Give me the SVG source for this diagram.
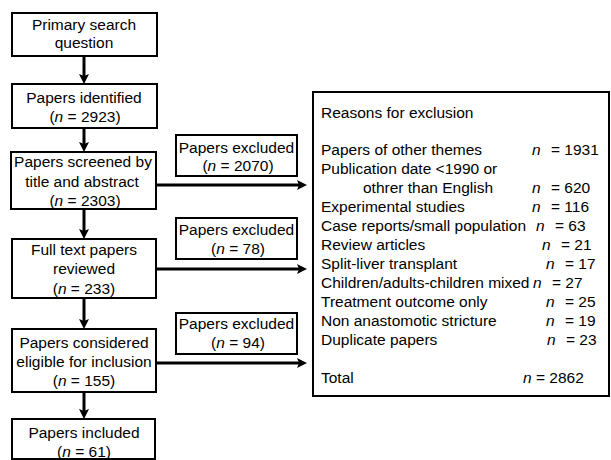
<svg xmlns="http://www.w3.org/2000/svg" width="611" height="460" viewBox="0 0 611 460">
<style>
  .box { fill: #fff; stroke: #000; stroke-width: 2; }
  .t { font-family: "Liberation Sans", Arial, sans-serif; font-size: 15.5px; fill: #000; }
  .c { text-anchor: middle; }
  .i { font-style: italic; }
  .conn { stroke: #000; stroke-width: 3; fill: none; marker-end: url(#ah); }
</style>
<defs>
  <marker id="ah" viewBox="0 0 10 10" refX="4" refY="5" markerWidth="10" markerHeight="10" markerUnits="userSpaceOnUse" orient="auto">
    <path d="M0,0 L10,5 L0,10 L2,5 z" fill="#000"/>
  </marker>
</defs>
<rect x="0" y="0" width="611" height="460" fill="#fff"/>
<g id="connectors">
  <line class="conn" x1="84" y1="56" x2="84" y2="78"/>
  <line class="conn" x1="84" y1="128" x2="84" y2="146"/>
  <line class="conn" x1="84" y1="209" x2="84" y2="233"/>
  <line class="conn" x1="84" y1="298" x2="84" y2="323"/>
  <line class="conn" x1="84" y1="392" x2="84" y2="413"/>
  <line class="conn" x1="156" y1="185" x2="301" y2="185"/>
  <line class="conn" x1="156" y1="269" x2="301" y2="269"/>
  <line class="conn" x1="156" y1="363" x2="301" y2="363"/>
</g>
<g id="primary">
  <rect class="box" x="12" y="13" width="145" height="43"/>
  <text class="t c" x="84" y="30">Primary search</text>
  <text class="t c" x="84" y="48">question</text>
</g>
<g id="identified">
  <rect class="box" x="12" y="84" width="145" height="44"/>
  <text class="t c" x="84" y="103">Papers identified</text>
  <text class="t c" x="85" y="122">(<tspan class="i">n</tspan> = 2923)</text>
</g>
<g id="screened">
  <rect class="box" x="11" y="152" width="145" height="57"/>
  <text class="t c" x="83" y="167">Papers screened by</text>
  <text class="t c" x="82" y="187">title and abstract</text>
  <text class="t c" x="85" y="206">(<tspan class="i">n</tspan> = 2303)</text>
</g>
<g id="fulltext">
  <rect class="box" x="12" y="239" width="144" height="59"/>
  <text class="t c" x="84" y="255">Full text papers</text>
  <text class="t c" x="84" y="274">reviewed</text>
  <text class="t c" x="84" y="294">(<tspan class="i">n</tspan> = 233)</text>
</g>
<g id="eligible">
  <rect class="box" x="12" y="329" width="144" height="63"/>
  <text class="t c" x="84" y="348">Papers considered</text>
  <text class="t c" x="84" y="367">eligible for inclusion</text>
  <text class="t c" x="84" y="386">(<tspan class="i">n</tspan> = 155)</text>
</g>
<g id="included">
  <rect class="box" x="12" y="419" width="143" height="40"/>
  <text class="t c" x="84" y="438">Papers included</text>
  <text class="t c" x="84" y="457">(<tspan class="i">n</tspan> = 61)</text>
</g>
<g id="excluded1">
  <rect class="box" x="176" y="135" width="121" height="41"/>
  <text class="t c" x="236.5" y="153">Papers excluded</text>
  <text class="t c" x="238" y="171">(<tspan class="i">n</tspan> = 2070)</text>
</g>
<g id="excluded2">
  <rect class="box" x="176" y="218" width="121" height="41"/>
  <text class="t c" x="236.5" y="235">Papers excluded</text>
  <text class="t c" x="238" y="254">(<tspan class="i">n</tspan> = 78)</text>
</g>
<g id="excluded3">
  <rect class="box" x="176" y="313" width="121" height="41"/>
  <text class="t c" x="236.5" y="329">Papers excluded</text>
  <text class="t c" x="238" y="348">(<tspan class="i">n</tspan> = 94)</text>
</g>
<g id="reasons">
  <rect class="box" x="313" y="92" width="296" height="304"/>
  <text class="t" x="321" y="117.5">Reasons for exclusion</text>
  <text class="t" x="321" y="155">Papers of other themes</text>
  <text class="t" x="532" y="155"><tspan class="i">n</tspan><tspan x="551">= 1931</tspan></text>
  <text class="t" x="321" y="174">Publication date &lt;1990 or</text>
  <text class="t" x="363" y="193">othrer than English</text>
  <text class="t" x="532" y="193"><tspan class="i">n</tspan><tspan x="551">= 620</tspan></text>
  <text class="t" x="321" y="212">Experimental studies</text>
  <text class="t" x="532" y="212"><tspan class="i">n</tspan><tspan x="551">= 116</tspan></text>
  <text class="t" x="321" y="231">Case reports/small population</text>
  <text class="t" x="536" y="231"><tspan class="i">n</tspan><tspan x="555">= 63</tspan></text>
  <text class="t" x="321" y="250">Review articles</text>
  <text class="t" x="542" y="250"><tspan class="i">n</tspan><tspan x="561">= 21</tspan></text>
  <text class="t" x="321" y="269">Split-liver transplant</text>
  <text class="t" x="546" y="269"><tspan class="i">n</tspan><tspan x="565">= 17</tspan></text>
  <text class="t" x="321" y="288">Children/adults-children mixed</text>
  <text class="t" x="533" y="288"><tspan class="i">n</tspan><tspan x="552">= 27</tspan></text>
  <text class="t" x="321" y="307">Treatment outcome only</text>
  <text class="t" x="546" y="307"><tspan class="i">n</tspan><tspan x="565">= 25</tspan></text>
  <text class="t" x="321" y="326">Non anastomotic stricture</text>
  <text class="t" x="546" y="326"><tspan class="i">n</tspan><tspan x="565">= 19</tspan></text>
  <text class="t" x="321" y="345">Duplicate papers</text>
  <text class="t" x="547" y="345"><tspan class="i">n</tspan><tspan x="566">= 23</tspan></text>
  <text class="t" x="321" y="382.5">Total</text>
  <text class="t" x="523" y="382.5"><tspan class="i">n</tspan> = 2862</text>
</g>
</svg>
